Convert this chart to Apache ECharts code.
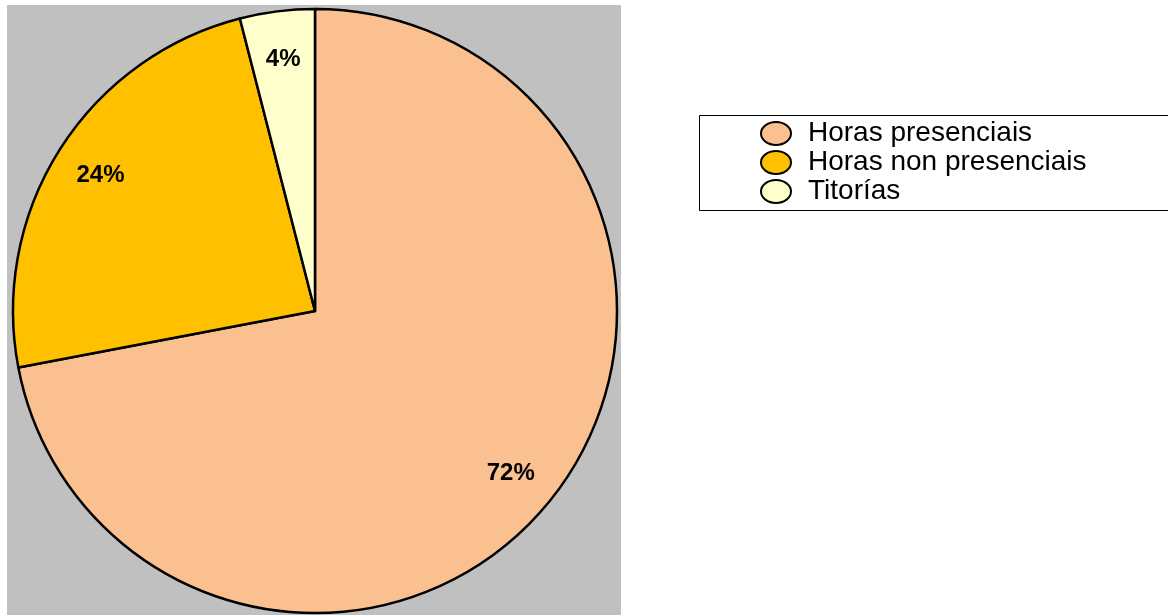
<!DOCTYPE html>
<html><head><meta charset="utf-8">
<script src="https://cdn.jsdelivr.net/npm/echarts@6/dist/echarts.min.js"></script>
<style>html,body{margin:0;padding:0;background:#fff}#c{width:1168px;height:615px}</style>
</head><body><div id="c"></div>
<script>
const categories = ['Horas presenciais', 'Horas non presenciais', 'Titorías'];
const values = [72, 24, 4];
const colors = ['#FAC090', '#FFC000', '#FFFFCC'];

const chart = echarts.init(document.getElementById('c'), null, {renderer: 'canvas'});
const data = categories.map((n, i) => ({name: n, value: values[i], itemStyle: {color: colors[i]}}));
const total = values.reduce((a, b) => a + b, 0);
chart.setOption({
  animation: false,
  graphic: [
    {type: 'rect', z: -10, shape: {x: 7, y: 5, width: 614, height: 612}, style: {fill: '#C0C0C0'}},
    {type: 'rect', z: -10, shape: {x: 699.5, y: 115.5, width: 480, height: 95}, style: {fill: '#fff', stroke: '#000', lineWidth: 1}}
  ],
  legend: {
    orient: 'vertical', left: 760, top: 119, padding: 0, itemGap: 0,
    itemWidth: 30, itemHeight: 23, symbolKeepAspect: false,
    icon: 'path://M0,50 A50,50 0 1,1 100,50 A50,50 0 1,1 0,50 Z',
    data: categories,
    itemStyle: {borderColor: '#000', borderWidth: 2},
    textStyle: {fontFamily: 'Liberation Sans, Arial, sans-serif', fontSize: 28, color: '#000', lineHeight: 29, padding: [0, 0, 0, 12]}
  },
  series: [
    {
      type: 'pie', center: [315, 311], radius: [0, 302], startAngle: 90, clockwise: true,
      data: data, label: {show: false}, labelLine: {show: false},
      itemStyle: {borderColor: '#000', borderWidth: 2.5},
      emphasis: {disabled: true}
    },
    {
      type: 'pie', center: [315, 311], radius: [200, 302], startAngle: 90, clockwise: true, silent: true,
      data: categories.map((n, i) => ({name: n + ' ', value: values[i]})),
      itemStyle: {color: 'rgba(0,0,0,0)', borderWidth: 0},
      label: {show: true, position: 'inside', color: '#000', fontWeight: 'bold', fontSize: 24,
        fontFamily: 'Liberation Sans, Arial, sans-serif',
        formatter: p => Math.round(p.value / total * 100) + '%'},
      labelLine: {show: false}, emphasis: {disabled: true}
    }
  ]
});
</script></body></html>
